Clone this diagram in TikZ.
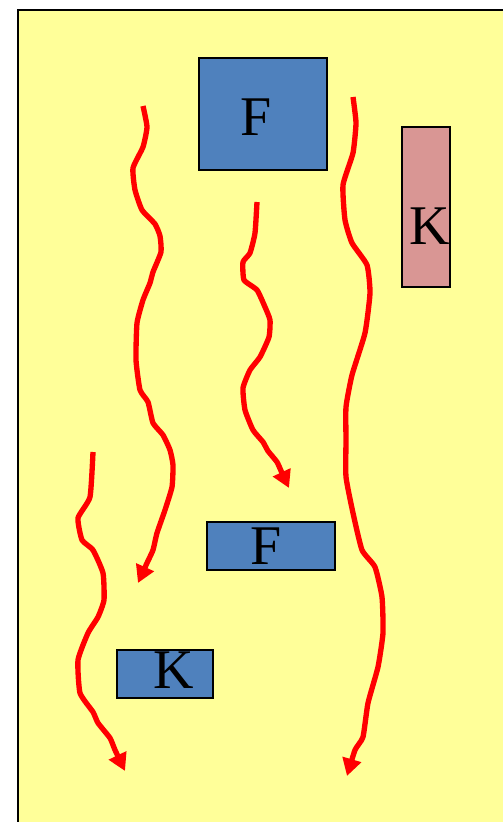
\documentclass[tikz,border=0pt]{standalone}
\usepackage{fontspec}
\setmainfont{Liberation Serif}
\usetikzlibrary{arrows.meta}
\definecolor{BackClr}{HTML}{FFFF99}
\definecolor{BoxClr}{HTML}{4F81BD}
\definecolor{PinkClr}{HTML}{D99694}
\definecolor{FlowClr}{HTML}{FF0000}

\tikzset{
  box/.style={draw=black,line width=1.7pt,inner sep=0pt},
  bluebox/.style={box,fill=BoxClr},
  pinkbox/.style={box,fill=PinkClr},
  lbl/.style={inner sep=0pt,font=\fontsize{42}{48}\selectfont},
  flow/.style={draw=FlowClr,line width=4pt,line join=round,
    -{Triangle[length=13pt,width=14pt]}}
}

\begin{document}
\begin{tikzpicture}[x=0.75pt,y=-0.75pt]
\useasboundingbox (0,0) rectangle (503,822);

\fill[BackClr] (18,10) rectangle (503,822);
\draw[line width=1.8pt] (18,822) -- (18,10) -- (503,10);

% boxes
\node[bluebox,minimum width=96pt,minimum height=84pt] (f1) at (263,114) {};
\node[pinkbox,minimum width=36pt,minimum height=120pt] (k1) at (426,207) {};
\node[bluebox,minimum width=96pt,minimum height=36pt] (f2) at (271,546) {};
\node[bluebox,minimum width=72pt,minimum height=36pt] (k2) at (165,674) {};

\node[lbl] (f1t) at (256,117) {F};
\node[lbl] (k1t) at (430,226) {K};
\node[lbl] (f2t) at (266,546) {F};
\node[lbl] (k2t) at (174,670) {K};

% flows
\draw[flow] plot[smooth,tension=0.3] coordinates {(143,106) (147,127) (143,147)
  (133,168) (135,190) (142,210) (155,224) (160,236) (161,252) (153,272) (150,283)
  (143,300) (137,323) (136,360) (140,390) (148,402) (153,423) (163,435) (170,450)
  (173,465) (172,487) (165,510) (157,533) (153,550) (147,563) (138,583)};

\draw[flow] plot[smooth,tension=0.3] coordinates {(257,202) (255,233) (250,253)
  (243,262) (244,280) (257,290) (265,307) (270,320) (269,337) (260,357) (250,370)
  (243,388) (245,410) (253,430) (263,442) (268,451) (277,462) (282,473) (289,488)};

\draw[flow] plot[smooth,tension=0.3] coordinates {(353,97) (356,123) (353,153)
  (343,185) (345,220) (352,243) (367,265) (370,293) (365,333) (352,375) (346,407)
  (346,440) (346,477) (353,513) (362,550) (375,567) (382,597) (383,633) (378,667)
  (368,703) (363,737) (355,750) (347,776)};

\draw[flow] plot[smooth,tension=0.3] coordinates {(93,452) (90,497) (78,518)
  (82,540) (93,550) (103,573) (104,600) (98,617) (88,633) (78,660) (80,693)
  (93,712) (98,723) (110,738) (115,750) (125,771)};

\end{tikzpicture}
\end{document}
